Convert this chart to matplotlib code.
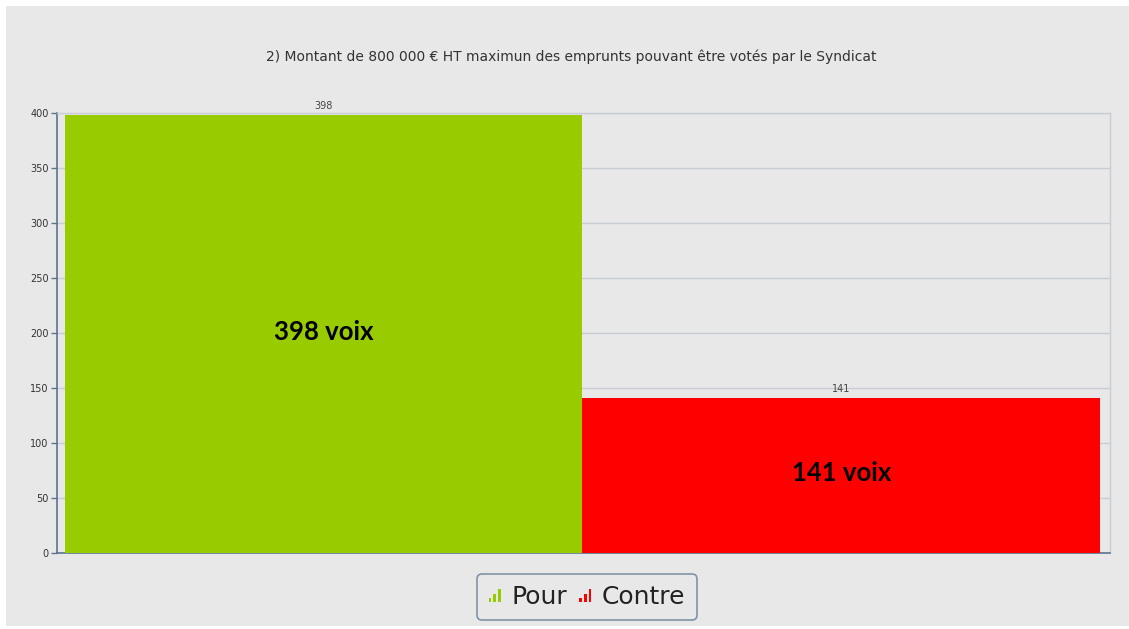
import matplotlib
matplotlib.use('Agg')
from matplotlib import pyplot as plt
from matplotlib.patches import Rectangle, Patch
from matplotlib.legend_handler import HandlerBase

categories = ['Pour', 'Contre']
votes = [398, 141]
colors = ['#99cc00', '#ff0000']
inner_labels = ['398 voix', '141 voix']
title = '2) Montant de 800 000 € HT maximun des emprunts pouvant être votés par le Syndicat'
y_ticks = [0, 50, 100, 150, 200, 250, 300, 350, 400]

BG = '#e8e8e8'
AXIS = '#5b7391'


class BarIconHandler(HandlerBase):
    # small "signal bars" icon like the original legend
    def create_artists(self, legend, orig_handle, xdescent, ydescent,
                       width, height, fontsize, trans):
        c = orig_handle.get_facecolor()
        bw = width / 5.0
        arts = []
        for i, h in enumerate([0.3, 0.6, 0.95]):
            r = Rectangle((-xdescent + i * bw * 1.9, -ydescent), bw, h * height,
                          facecolor=c, edgecolor='none', transform=trans)
            arts.append(r)
        return arts


fig = plt.figure(figsize=(11.29, 6.29), dpi=100)
fig.patch.set_facecolor('white')
fig.patches.append(Rectangle((6 / 1129, 3 / 629), 1 - 6 / 1129, 1 - 9 / 629,
                             transform=fig.transFigure, facecolor=BG,
                             edgecolor='none', zorder=-10))

ax = fig.add_axes([57 / 1129, 76 / 629, 1053 / 1129, 440 / 629])
ax.set_facecolor(BG)

x = list(range(len(categories)))
bars = ax.bar(x, votes, width=1.0, color=colors, edgecolor='none', zorder=3)

ax.set_ylim(0, 400)
ax.set_xlim(-0.5 - 8 / 517.5, 1.5 + 10 / 517.5)
ax.set_yticks(y_ticks)
ax.set_xticks([])
ax.yaxis.grid(True, color='#c8cdd3', linewidth=1.0, zorder=0)
ax.tick_params(axis='y', direction='out', length=4, width=1, color=AXIS,
               labelsize=7, labelcolor='#333333', pad=2)

for side in ['left', 'bottom']:
    ax.spines[side].set_color(AXIS)
    ax.spines[side].set_linewidth(1.2)
for side in ['top', 'right']:
    ax.spines[side].set_color('#c8cdd3')
    ax.spines[side].set_linewidth(1.0)

for i, v in enumerate(votes):
    ax.text(x[i], v + 4, str(v), ha='center', va='bottom', fontsize=7,
            color='#444444')
    ax.text(x[i], v / 2 + 2, inner_labels[i], ha='center', va='center',
            fontsize=18.5, fontweight='bold', family='Lato', color='black',
            zorder=4)

fig.text(571 / 1129, 1 - 57 / 629, title, ha='center', va='center',
         fontsize=10, color='#333333')

handles = [Patch(facecolor=c) for c in colors]
leg = fig.legend(handles, categories, loc='center',
                 bbox_to_anchor=(587 / 1129, 1 - 597 / 629), ncol=2,
                 fontsize=18, frameon=True, fancybox=True,
                 handler_map={Patch: BarIconHandler()},
                 handlelength=0.5, handleheight=0.5, handletextpad=0.4,
                 columnspacing=0.5, borderpad=0.45)
leg.get_frame().set_facecolor(BG)
leg.get_frame().set_edgecolor('#7f93a8')
leg.get_frame().set_linewidth(1.2)
leg.get_frame().set_alpha(1)
for t in leg.get_texts():
    t.set_color('#222222')

fig.savefig('out.png', dpi=100, facecolor=fig.get_facecolor())
